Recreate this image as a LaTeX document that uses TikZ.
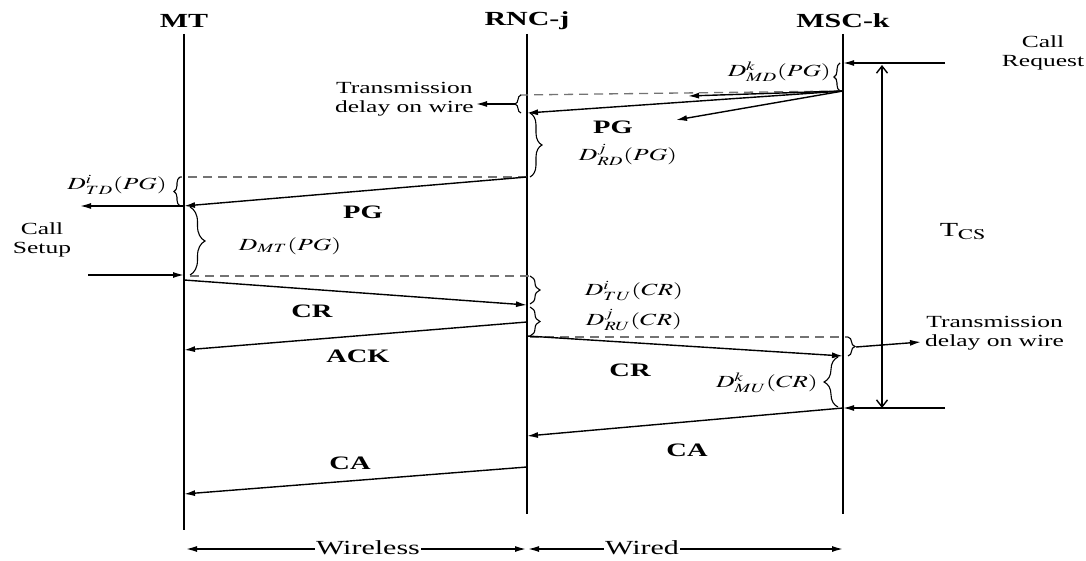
\documentclass[tikz,border=0pt]{standalone}
\usepackage{mathptmx}
\usepackage[no-math]{fontspec}
\setmainfont{Liberation Serif}
\usepackage{graphicx}
\usetikzlibrary{arrows.meta,decorations.pathreplacing}
\newcommand{\sx}[1]{\scalebox{1.5}[1]{#1}}
\tikzset{
  life/.style={line width=1.7pt},
  msg/.style={line width=1.4pt, -{Latex[length=11pt,width=6pt]}},
  dmsg/.style={line width=1.4pt, {Latex[length=11pt,width=6pt]}-{Latex[length=11pt,width=6pt]}},
  tmsg/.style={line width=1.4pt, {Straight Barb[length=7pt,width=11pt]}-{Straight Barb[length=7pt,width=11pt]}},
  dsh/.style={line width=1.3pt, dash pattern=on 9pt off 6pt, draw=black!55},
  brc/.style={decorate, decoration={brace, amplitude=#1}, line width=1.1pt},
  brc/.default=7pt,
  hdr/.style={font=\fontsize{20}{22}\selectfont\bfseries},
  lbl/.style={font=\fontsize{19}{21}\selectfont\bfseries},
  txt/.style={font=\fontsize{17}{19}\selectfont, align=center, inner sep=0pt},
  mth/.style={font=\fontsize{17}{19}\selectfont, inner sep=0pt},
}
\begin{document}
\begin{tikzpicture}[x=1pt,y=-1pt]
\useasboundingbox (0,0) rectangle (1086,561);
\clip (0,0) rectangle (1086,561);

% lifelines
\coordinate (MTt) at (184,34);  \coordinate (MTb) at (184,530);
\coordinate (RNt) at (527,34);  \coordinate (RNb) at (527,514);
\coordinate (MSt) at (843,34);  \coordinate (MSb) at (843,514);
\draw[life] (MTt) -- (MTb);
\draw[life] (RNt) -- (RNb);
\draw[life] (MSt) -- (MSb);
\node[hdr] (hMT) at (184,21) {\sx{MT}};
\node[hdr] (hRN) at (527,21) {\sx{RNC-j}};
\node[hdr] (hMS) at (843,21) {\sx{MSC-k}};

% call request
\coordinate (cq0) at (945,63); \coordinate (ms1) at (843,63);
\draw[msg] (cq0) -- (ms1);
\node[txt] (callreq) at (1043,53) {\sx{Call}\\\sx{Request}};

% T_CS
\coordinate (ts0) at (882,65); \coordinate (ts1) at (882,408);
\draw[tmsg] (ts0) -- (ts1);
\node[font=\fontsize{20}{22}\selectfont] (tcs) at (963,232) {\sx{T$_{\mathrm{CS}}$}};

% D^k_MD
\draw[brc=6pt] (840,91) -- (840,63);
\node[mth, anchor=east] (dmd) at (831,72) {\sx{$D^{k}_{MD}(PG)$}};

% PG from MSC
\coordinate (ms2) at (843,91);
\coordinate (rn1) at (527,113);
\coordinate (d1) at (520,95);
\coordinate (pgx1) at (688,96);
\coordinate (pgx2) at (676,120);
\draw[dsh] (ms2) -- (d1);
\draw[msg] (ms2) -- (rn1);
\draw[msg] (ms2) -- (pgx1);
\draw[msg] (ms2) -- (pgx2);
\node[lbl] (pg1) at (613,127) {\sx{PG}};

% left transmission delay
\draw[brc=6pt] (521,113) -- (521,95);
\coordinate (tw1a) at (515,104); \coordinate (tw1b) at (476,104);
\draw[msg] (tw1a) -- (tw1b);
\node[txt, anchor=east] (tw1) at (474,99) {\sx{Transmission}\\\sx{delay on wire}};

% D^j_RD
\draw[brc=12pt] (530,113) -- (530,177);
\node[mth] (drd) at (628,155) {\sx{$D^{j}_{RD}(PG)$}};

% dashed RNC -> MT
\coordinate (rn2) at (527,177); \coordinate (mt0) at (180,177);
\draw[dsh] (rn2) -- (mt0);

% PG RNC -> MT
\coordinate (mt1) at (184,206);
\draw[msg] (rn2) -- (mt1);
\node[lbl] (pg2) at (363,212) {\sx{PG}};

% D^i_TD
\draw[brc=6pt] (180,206) -- (180,177);
\node[mth, anchor=east] (dtd) at (167,185) {\sx{$D^{i}_{TD}(PG)$}};
\coordinate (out1) at (80,206);
\draw[msg] (mt1) -- (out1);

% D_MT
\draw[brc=15pt] (190,207) -- (190,275);
\node[mth] (dmt) at (290,246) {\sx{$D_{MT}(PG)$}};

% call setup
\node[txt] (callset) at (42,240) {\sx{Call}\\\sx{Setup}};
\coordinate (in1) at (88,275); \coordinate (mt2) at (184,275);
\draw[msg] (in1) -- (mt2);

% dashed MT -> RNC
\coordinate (mt3) at (190,276); \coordinate (rn3) at (530,276);
\draw[dsh] (mt3) -- (rn3);

% CR MT -> RNC
\coordinate (mt4) at (184,280); \coordinate (rn4) at (527,305);
\draw[msg] (mt4) -- (rn4);
\node[lbl] (cr1) at (312,311) {\sx{CR}};

% D^i_TU, D^j_RU
\draw[brc=10pt] (530,276) -- (530,304);
\node[mth] (dtu) at (634,291) {\sx{$D^{i}_{TU}(CR)$}};
\draw[brc=10pt] (530,307) -- (530,336);
\node[mth] (dru) at (634,320) {\sx{$D^{j}_{RU}(CR)$}};

% ACK
\coordinate (rn5) at (527,322); \coordinate (mt5) at (184,350);
\draw[msg] (rn5) -- (mt5);
\node[lbl] (ack) at (358,356) {\sx{ACK}};

% CR RNC -> MSC
\coordinate (rn6) at (527,336); \coordinate (ms3) at (843,356);
\coordinate (rn7) at (530,337); \coordinate (ms4) at (848,337);
\draw[dsh] (rn7) -- (ms4);
\draw[msg] (rn6) -- (ms3);
\node[lbl] (cr2) at (630,370) {\sx{CR}};

% right transmission delay
\draw[brc=7pt] (848,337) -- (848,356);
\coordinate (tw2a) at (856,347); \coordinate (tw2b) at (921,342);
\draw[msg] (tw2a) -- (tw2b);
\node[txt, anchor=west] (tw2) at (925,333) {\sx{Transmission}\\\sx{delay on wire}};

% D^k_MU
\draw[brc=14pt] (838,407) -- (838,357);
\node[mth, anchor=east] (dmu) at (818,383) {\sx{$D^{k}_{MU}(CR)$}};
\coordinate (cq2) at (945,408); \coordinate (ms5) at (843,408);
\draw[msg] (cq2) -- (ms5);

% CA
\coordinate (rn8) at (527,436);
\draw[msg] (ms5) -- (rn8);
\node[lbl] (ca1) at (687,450) {\sx{CA}};
\coordinate (rn9) at (527,467); \coordinate (mt6) at (184,494);
\draw[msg] (rn9) -- (mt6);
\node[lbl] (ca2) at (350,463) {\sx{CA}};

% bottom
\coordinate (bw0) at (186,549); \coordinate (bw1) at (526,549);
\coordinate (bw2) at (528,549); \coordinate (bw3) at (843,549);
\draw[dmsg] (bw0) -- (bw1);
\draw[dmsg] (bw2) -- (bw3);
\node[fill=white, inner sep=1pt, font=\fontsize{20}{22}\selectfont] (wl) at (368,548) {\sx{Wireless}};
\node[fill=white, inner sep=1pt, font=\fontsize{20}{22}\selectfont] (wd) at (642,548) {\sx{Wired}};
\end{tikzpicture}
\end{document}
